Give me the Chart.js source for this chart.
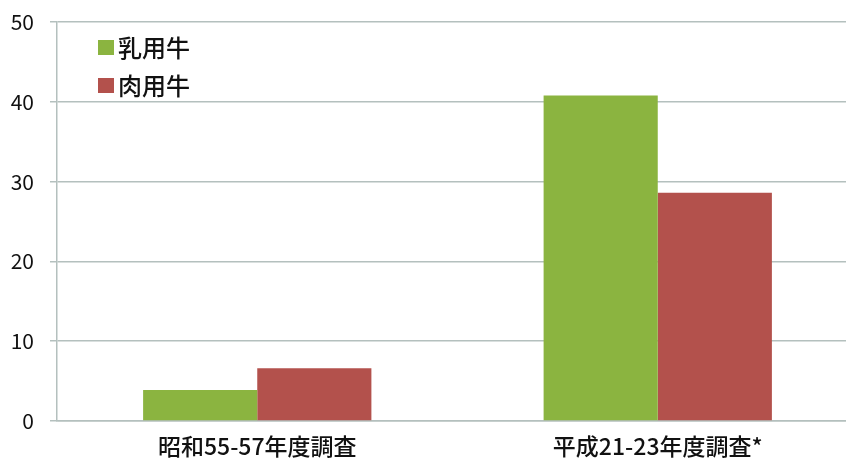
<!DOCTYPE html>
<html>
<head>
<meta charset="utf-8">
<script src="https://cdn.jsdelivr.net/npm/chart.js@4.4.0/dist/chart.umd.min.js"></script>
<style>
    html, body { margin: 0; padding: 0; background: #ffffff; overflow: hidden; }
    #wrap { width: 858px; height: 463px; }
</style>
</head>
<body>
<div id="wrap"><canvas id="cattleChart"></canvas></div>
<script>
const categories = ["昭和55-57年度調査", "平成21-23年度調査*"];
const dairyValues = [3.9, 40.8];
const beefValues = [6.6, 28.6];
const seriesLabels = ["乳用牛", "肉用牛"];
const yTicks = [0, 10, 20, 30, 40, 50];

const GREEN = "#8bb440";
const RED = "#b3514c";
const GRID = "#b4c0be";
const FONT = "'Noto Sans CJK JP', 'Noto Sans', sans-serif";

/*
 * Legend drawn inside the plot, top left */
const insideLegend = {
    id: "insideLegend",
    afterDraw(chart) {
        const ctx = chart.ctx;
        const left = chart.chartArea.left + 41;
        const top = chart.chartArea.top + 18;
        ctx.save();
        ctx.font = "500 24px " + FONT;
        ctx.textBaseline = "middle";
        chart.data.datasets.forEach((ds, i) => {
            const y = top + i * 38;
            ctx.fillStyle = ds.backgroundColor;
            ctx.fillRect(left, y, 16, 15);
            ctx.fillStyle = "#111";
            ctx.fillText(ds.label, left + 20, y + 8);
        });
        ctx.restore();
    },
};

const ctx = document.getElementById("cattleChart");

new Chart(ctx, {
    type: "bar",
    data: {
        labels: categories,
        datasets: [
            {
                label: seriesLabels[0],
                data: dairyValues,
                backgroundColor: GREEN,
                barPercentage: 1,
                categoryPercentage: 0.57,
            },
            {
                label: seriesLabels[1],
                data: beefValues,
                backgroundColor: RED,
                barPercentage: 1,
                categoryPercentage: 0.57,
            },
        ],
    },
    options: {
        responsive: true,
        maintainAspectRatio: false,
        animation: false,
        layout: {
            padding: { top: 22, right: 0, bottom: 0, left: 0 },
        },
        plugins: {
            legend: { display: false },
            tooltip: { enabled: false },
        },
        scales: {
            x: {
                afterFit: (axis) => {
                    axis.height = 42;
                },
                grid: { display: false, drawTicks: false },
                border: { color: GRID, width: 1.5 },
                ticks: {
                    color: "#111",
                    font: { family: FONT, size: 23, weight: 500 },
                    padding: 11,
                },
            },
            y: {
                min: 0,
                max: 50,
                afterFit: (axis) => {
                    axis.width = 57;
                    axis.paddingTop = 0;
                },
                afterBuildTicks: (axis) => {
                    axis.ticks = yTicks.map((v) => ({ value: v }));
                },
                grid: {
                    color: GRID,
                    lineWidth: 1.5,
                    tickLength: 7,
                },
                border: { color: GRID, width: 1.5 },
                ticks: {
                    color: "#111",
                    font: { family: FONT, size: 21 },
                    padding: 16,
                },
            },
        },
    },
    plugins: [insideLegend],
});
</script>
</body>
</html>
